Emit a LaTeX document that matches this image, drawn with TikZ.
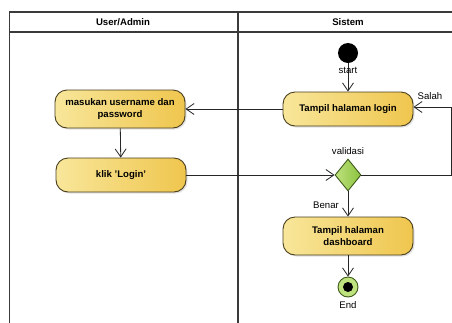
\documentclass[tikz,border=0pt]{standalone}
\usepackage{fontspec}
\setmainfont{Liberation Sans}
\usetikzlibrary{arrows.meta,shapes.geometric,shadows}
\definecolor{yelL}{HTML}{F8E69A}
\definecolor{yelR}{HTML}{EFC64E}
\definecolor{yelD}{HTML}{4A3F1E}
\definecolor{grnL}{HTML}{BEE27E}
\definecolor{grnR}{HTML}{8CC23E}
\definecolor{grnD}{HTML}{3E5A1A}
\definecolor{frame}{HTML}{3A3A3A}
\tikzset{
  act/.style={draw=yelD, line width=0.9pt, rounded corners=12pt, left color=yelL, right color=yelR,
    minimum height=34pt, minimum width=130pt, align=center, inner sep=2pt,
    font=\bfseries\fontsize{9.6}{12.5}\selectfont,
    drop shadow={shadow xshift=1.5pt, shadow yshift=-1.5pt, fill=black!22}},
  flow/.style={draw=black!85, line width=0.8pt, -{Straight Barb[length=8pt,width=11pt,line width=0.8pt]}},
  lbl/.style={font=\fontsize{9.6}{11}\selectfont, inner sep=1pt},
  hdr/.style={font=\bfseries\fontsize{9.6}{11}\selectfont}
}
\begin{document}
\begin{tikzpicture}[x=1pt,y=-1pt]
\useasboundingbox (0,0) rectangle (452,322);
\fill[white] (0,0) rectangle (452,322);
% swimlane frame
\begin{scope}
\clip (0,0) rectangle (452,322);
\draw[frame, line width=1.1pt] (9.5,340) -- (9.5,12) -- (470,12);
\draw[frame, line width=1.1pt] (9.5,32) -- (470,32);
\draw[frame, line width=1.1pt] (238,12) -- (238,340);
\end{scope}
\node[hdr] (h1) at (123,22) {User/Admin};
\node[hdr] (h2) at (348,22) {Sistem};
% nodes
\node[circle, fill=black, minimum size=20pt, inner sep=0pt] (start) at (348,53) {};
\node[act] (login) at (348,109) {Tampil halaman login};
\node[act, minimum height=38pt] (masuk) at (120,109) {masukan username dan\\password};
\node[act] (klik) at (121,175) {klik 'Login'};
\node[diamond, draw=grnD, line width=0.9pt, left color=grnL, right color=grnR, minimum width=26pt, minimum height=32pt, inner sep=0pt] (dia) at (348,175) {};
\node[act, minimum height=38pt] (dash) at (348,236) {Tampil halaman\\dashboard};
\node[circle, draw=grnD, line width=0.9pt, fill=grnL, minimum size=20pt, inner sep=0pt] (end) at (348,287) {};
\node[circle, fill=black, minimum size=10pt, inner sep=0pt] (enddot) at (end.center) {};
% connectors
\draw[flow] (start) -- (login);
\node[lbl] (lstart) at (348,70) {start};
\draw[flow] (login) -- (masuk);
\draw[flow] (masuk) -- (klik);
\draw[flow] (klik) -- (dia);
\coordinate (c1) at (451,175);
\coordinate (c2) at (451,107);
\draw[flow] (dia.east) -- (c1) -- (c2) -- (login.east |- c2);
\draw[flow] (dia) -- (dash);
\draw[flow] (dash) -- (end);
% labels
\node[lbl] (lval) at (348,151) {validasi};
\node[lbl] (lben) at (326,205) {Benar};
\node[lbl] (lsal) at (430,96) {Salah};
\node[lbl] (lend) at (348,305) {End};
\end{tikzpicture}
\end{document}
